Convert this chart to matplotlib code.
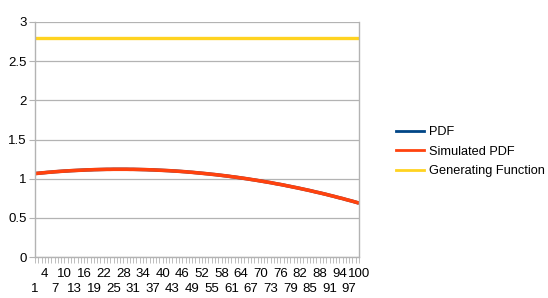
import matplotlib.pyplot as plt
from matplotlib.lines import Line2D

plt.rcParams['font.family'] = ['Liberation Sans', 'DejaVu Sans']

# categories 1..100
categories = list(range(1, 101))

# values (PDF lies under the simulated curve)
pdf = [1.065, 1.069, 1.073, 1.077, 1.081, 1.084, 1.088, 1.091, 1.094, 1.097,
       1.099, 1.102, 1.104, 1.106, 1.108, 1.110, 1.112, 1.113, 1.115, 1.116,
       1.117, 1.118, 1.119, 1.119, 1.120, 1.120, 1.120, 1.120, 1.120, 1.119,
       1.119, 1.118, 1.117, 1.116, 1.115, 1.113, 1.112, 1.110, 1.108, 1.106,
       1.104, 1.102, 1.099, 1.097, 1.094, 1.091, 1.088, 1.084, 1.081, 1.077,
       1.073, 1.069, 1.065, 1.061, 1.056, 1.052, 1.047, 1.042, 1.037, 1.032,
       1.026, 1.021, 1.015, 1.009, 1.003, 0.997, 0.990, 0.984, 0.977, 0.970,
       0.963, 0.956, 0.949, 0.941, 0.933, 0.926, 0.918, 0.909, 0.901, 0.892,
       0.884, 0.875, 0.866, 0.857, 0.848, 0.838, 0.828, 0.819, 0.809, 0.799,
       0.788, 0.778, 0.767, 0.756, 0.746, 0.734, 0.723, 0.712, 0.700, 0.688]
simulated_pdf = list(pdf)
generating = [2.8] * 100

series_names = ["PDF", "Simulated PDF", "Generating Function"]
colors = ["#004586", "#ff420e", "#ffd320"]

fig = plt.figure(figsize=(5.48, 2.98), dpi=100)
ax = fig.add_axes([35 / 548, 41 / 298, 324 / 548, 235 / 298])

ax.plot(categories, pdf, color=colors[0], lw=2.4, solid_capstyle='butt')
ax.plot(categories, simulated_pdf, color=colors[1], lw=2.6, solid_capstyle='butt')
ax.plot(categories, generating, color=colors[2], lw=2.4, solid_capstyle='butt')

ax.set_xlim(1, 100)
ax.set_ylim(0, 3)
ax.set_yticks([0, 0.5, 1, 1.5, 2, 2.5, 3])
ax.set_yticklabels(["0", "0.5", "1", "1.5", "2", "2.5", "3"])
ax.grid(axis='y', color='#b3b3b3', lw=0.9)
ax.set_axisbelow(True)

for s in ax.spines.values():
    s.set_color('#b3b3b3')
    s.set_linewidth(1.0)
ax.spines['top'].set_visible(False)

ax.tick_params(axis='y', length=4, color='#b3b3b3', labelsize=9.5, pad=2)

# x ticks: every category gets a mark, every 3rd a staggered label
ax.set_xticks(categories, minor=True)
ax.tick_params(axis='x', which='minor', length=4, color='#b3b3b3')
ax.set_xticks([])
labels = categories[::3]
for i, c in enumerate(labels):
    y = -17 if i % 2 == 1 else -32
    ax.annotate(str(c), xy=(c, 0), xycoords=('data', 'axes fraction'),
                xytext=(0, y * 0.72), textcoords='offset points',
                ha='center', va='center', fontsize=9.5)

handles = [Line2D([0], [0], color=c, lw=2) for c in colors]
leg = fig.legend(handles, series_names, loc='upper left',
                 bbox_to_anchor=(396 / 548, 1 - 126 / 298), frameon=False,
                 fontsize=9.2, handlelength=2.2, handletextpad=0.35,
                 labelspacing=0.6, borderpad=0, borderaxespad=0)

fig.savefig("out.png", dpi=100)
